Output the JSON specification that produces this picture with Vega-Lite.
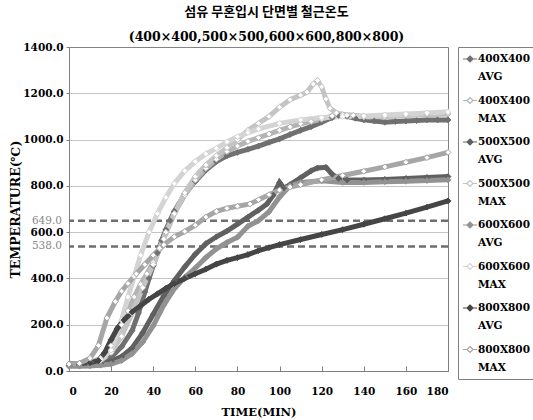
{
"$schema": "https://vega.github.io/schema/vega-lite/v6.json",
"width": 379, "height": 324,
"padding": {"left": 9, "top": 5, "right": 0, "bottom": 4},
"background": "white",
"title": {"text": "섬유 무혼입시 단면별 철근온도", "subtitle": "(400×400,500×500,600×600,800×800)", "font": "Noto Sans CJK KR", "fontSize": 13, "fontWeight": "bold", "color": "#000", "subtitleFont": "DejaVu Serif", "subtitleFontWeight": "bold", "subtitleFontSize": 12.5, "subtitleColor": "#000", "subtitlePadding": 12, "anchor": "middle", "offset": -1, "dx": 8},
"config": {
  "view": {"stroke": "#808080", "strokeWidth": 1},
  "style": {"guide-label": {"lineHeight": 18}},
  "axis": {"labelFont": "DejaVu Serif", "labelFontWeight": "bold", "labelFontSize": 10.5, "labelColor": "#000", "titleFont": "DejaVu Serif", "titleFontWeight": "bold", "titleColor": "#000", "domainColor": "#808080", "tickColor": "#808080"},
  "legend": {"orient": "right", "offset": 0, "padding": 6, "strokeColor": "#808080", "title": null, "symbolType": "M-1.4,0L-0.6,0M0.6,0L1.4,0M0,-0.6L0.6,0L0,0.6L-0.6,0Z", "symbolSize": 100, "symbolStrokeWidth": 1.2, "labelFont": "DejaVu Serif", "labelFontWeight": "bold", "labelFontSize": 10.5, "labelColor": "#000", "rowPadding": 11.5, "labelOffset": 2}
},
"datasets": {
"refs": [{"v": 649, "label": "649.0"}, {"v": 538, "label": "538.0"}],
"temps": [
{"s":"400X400 AVG","t":0,"v":25},{"s":"400X400 AVG","t":5,"v":27},{"s":"400X400 AVG","t":10,"v":30},{"s":"400X400 AVG","t":15,"v":38},{"s":"400X400 AVG","t":20,"v":60},{"s":"400X400 AVG","t":25,"v":105},{"s":"400X400 AVG","t":30,"v":175},{"s":"400X400 AVG","t":33,"v":250},{"s":"400X400 AVG","t":36,"v":340},{"s":"400X400 AVG","t":38,"v":400},{"s":"400X400 AVG","t":40,"v":455},{"s":"400X400 AVG","t":42,"v":510},{"s":"400X400 AVG","t":44,"v":565},{"s":"400X400 AVG","t":46,"v":610},{"s":"400X400 AVG","t":48,"v":650},{"s":"400X400 AVG","t":50,"v":690},{"s":"400X400 AVG","t":55,"v":765},{"s":"400X400 AVG","t":60,"v":820},{"s":"400X400 AVG","t":65,"v":868},{"s":"400X400 AVG","t":70,"v":905},{"s":"400X400 AVG","t":75,"v":930},{"s":"400X400 AVG","t":80,"v":945},{"s":"400X400 AVG","t":85,"v":958},{"s":"400X400 AVG","t":90,"v":972},{"s":"400X400 AVG","t":95,"v":988},{"s":"400X400 AVG","t":100,"v":1003},{"s":"400X400 AVG","t":105,"v":1022},{"s":"400X400 AVG","t":110,"v":1040},{"s":"400X400 AVG","t":115,"v":1056},{"s":"400X400 AVG","t":120,"v":1075},{"s":"400X400 AVG","t":125,"v":1095},{"s":"400X400 AVG","t":128,"v":1105},{"s":"400X400 AVG","t":132,"v":1100},{"s":"400X400 AVG","t":136,"v":1092},{"s":"400X400 AVG","t":140,"v":1085},{"s":"400X400 AVG","t":145,"v":1080},{"s":"400X400 AVG","t":150,"v":1075},{"s":"400X400 AVG","t":155,"v":1078},{"s":"400X400 AVG","t":160,"v":1080},{"s":"400X400 AVG","t":165,"v":1082},{"s":"400X400 AVG","t":170,"v":1085},{"s":"400X400 AVG","t":175,"v":1085},{"s":"400X400 AVG","t":180,"v":1085},
{"s":"400X400 MAX","t":0,"v":30},{"s":"400X400 MAX","t":5,"v":32},{"s":"400X400 MAX","t":10,"v":36},{"s":"400X400 MAX","t":15,"v":55},{"s":"400X400 MAX","t":20,"v":110},{"s":"400X400 MAX","t":25,"v":200},{"s":"400X400 MAX","t":28,"v":260},{"s":"400X400 MAX","t":31,"v":320},{"s":"400X400 MAX","t":34,"v":375},{"s":"400X400 MAX","t":37,"v":420},{"s":"400X400 MAX","t":40,"v":470},{"s":"400X400 MAX","t":43,"v":530},{"s":"400X400 MAX","t":46,"v":600},{"s":"400X400 MAX","t":50,"v":680},{"s":"400X400 MAX","t":55,"v":760},{"s":"400X400 MAX","t":60,"v":825},{"s":"400X400 MAX","t":65,"v":875},{"s":"400X400 MAX","t":70,"v":915},{"s":"400X400 MAX","t":75,"v":948},{"s":"400X400 MAX","t":80,"v":972},{"s":"400X400 MAX","t":85,"v":992},{"s":"400X400 MAX","t":90,"v":1008},{"s":"400X400 MAX","t":95,"v":1024},{"s":"400X400 MAX","t":100,"v":1040},{"s":"400X400 MAX","t":105,"v":1055},{"s":"400X400 MAX","t":110,"v":1068},{"s":"400X400 MAX","t":115,"v":1078},{"s":"400X400 MAX","t":120,"v":1088},{"s":"400X400 MAX","t":125,"v":1102},{"s":"400X400 MAX","t":130,"v":1108},{"s":"400X400 MAX","t":135,"v":1105},{"s":"400X400 MAX","t":140,"v":1100},{"s":"400X400 MAX","t":150,"v":1100},{"s":"400X400 MAX","t":160,"v":1105},{"s":"400X400 MAX","t":170,"v":1108},{"s":"400X400 MAX","t":180,"v":1110},
{"s":"500X500 AVG","t":0,"v":25},{"s":"500X500 AVG","t":5,"v":26},{"s":"500X500 AVG","t":10,"v":28},{"s":"500X500 AVG","t":15,"v":32},{"s":"500X500 AVG","t":20,"v":42},{"s":"500X500 AVG","t":25,"v":62},{"s":"500X500 AVG","t":30,"v":100},{"s":"500X500 AVG","t":35,"v":165},{"s":"500X500 AVG","t":40,"v":245},{"s":"500X500 AVG","t":45,"v":325},{"s":"500X500 AVG","t":50,"v":390},{"s":"500X500 AVG","t":55,"v":450},{"s":"500X500 AVG","t":60,"v":505},{"s":"500X500 AVG","t":65,"v":550},{"s":"500X500 AVG","t":70,"v":580},{"s":"500X500 AVG","t":75,"v":605},{"s":"500X500 AVG","t":80,"v":635},{"s":"500X500 AVG","t":85,"v":665},{"s":"500X500 AVG","t":90,"v":695},{"s":"500X500 AVG","t":94,"v":722},{"s":"500X500 AVG","t":97,"v":760},{"s":"500X500 AVG","t":100,"v":815},{"s":"500X500 AVG","t":102,"v":790},{"s":"500X500 AVG","t":105,"v":805},{"s":"500X500 AVG","t":110,"v":835},{"s":"500X500 AVG","t":115,"v":865},{"s":"500X500 AVG","t":118,"v":877},{"s":"500X500 AVG","t":122,"v":880},{"s":"500X500 AVG","t":125,"v":850},{"s":"500X500 AVG","t":128,"v":832},{"s":"500X500 AVG","t":132,"v":825},{"s":"500X500 AVG","t":140,"v":825},{"s":"500X500 AVG","t":150,"v":828},{"s":"500X500 AVG","t":160,"v":832},{"s":"500X500 AVG","t":170,"v":836},{"s":"500X500 AVG","t":180,"v":840},
{"s":"500X500 MAX","t":0,"v":30},{"s":"500X500 MAX","t":5,"v":32},{"s":"500X500 MAX","t":10,"v":35},{"s":"500X500 MAX","t":15,"v":45},{"s":"500X500 MAX","t":20,"v":80},{"s":"500X500 MAX","t":25,"v":150},{"s":"500X500 MAX","t":30,"v":250},{"s":"500X500 MAX","t":35,"v":360},{"s":"500X500 MAX","t":40,"v":460},{"s":"500X500 MAX","t":45,"v":570},{"s":"500X500 MAX","t":50,"v":680},{"s":"500X500 MAX","t":55,"v":770},{"s":"500X500 MAX","t":60,"v":840},{"s":"500X500 MAX","t":65,"v":890},{"s":"500X500 MAX","t":70,"v":930},{"s":"500X500 MAX","t":75,"v":965},{"s":"500X500 MAX","t":80,"v":1000},{"s":"500X500 MAX","t":85,"v":1040},{"s":"500X500 MAX","t":90,"v":1070},{"s":"500X500 MAX","t":95,"v":1100},{"s":"500X500 MAX","t":100,"v":1140},{"s":"500X500 MAX","t":105,"v":1172},{"s":"500X500 MAX","t":110,"v":1192},{"s":"500X500 MAX","t":113,"v":1205},{"s":"500X500 MAX","t":116,"v":1240},{"s":"500X500 MAX","t":118,"v":1255},{"s":"500X500 MAX","t":120,"v":1228},{"s":"500X500 MAX","t":122,"v":1175},{"s":"500X500 MAX","t":124,"v":1135},{"s":"500X500 MAX","t":127,"v":1115},{"s":"500X500 MAX","t":132,"v":1105},{"s":"500X500 MAX","t":140,"v":1098},{"s":"500X500 MAX","t":150,"v":1100},{"s":"500X500 MAX","t":160,"v":1105},{"s":"500X500 MAX","t":170,"v":1110},{"s":"500X500 MAX","t":180,"v":1115},
{"s":"600X600 AVG","t":0,"v":20},{"s":"600X600 AVG","t":5,"v":21},{"s":"600X600 AVG","t":10,"v":22},{"s":"600X600 AVG","t":15,"v":25},{"s":"600X600 AVG","t":20,"v":30},{"s":"600X600 AVG","t":25,"v":45},{"s":"600X600 AVG","t":30,"v":75},{"s":"600X600 AVG","t":35,"v":125},{"s":"600X600 AVG","t":40,"v":195},{"s":"600X600 AVG","t":45,"v":285},{"s":"600X600 AVG","t":50,"v":355},{"s":"600X600 AVG","t":55,"v":405},{"s":"600X600 AVG","t":60,"v":445},{"s":"600X600 AVG","t":65,"v":490},{"s":"600X600 AVG","t":70,"v":528},{"s":"600X600 AVG","t":75,"v":555},{"s":"600X600 AVG","t":80,"v":578},{"s":"600X600 AVG","t":85,"v":625},{"s":"600X600 AVG","t":90,"v":650},{"s":"600X600 AVG","t":95,"v":688},{"s":"600X600 AVG","t":100,"v":752},{"s":"600X600 AVG","t":105,"v":800},{"s":"600X600 AVG","t":110,"v":815},{"s":"600X600 AVG","t":120,"v":822},{"s":"600X600 AVG","t":130,"v":815},{"s":"600X600 AVG","t":140,"v":815},{"s":"600X600 AVG","t":150,"v":818},{"s":"600X600 AVG","t":160,"v":820},{"s":"600X600 AVG","t":170,"v":823},{"s":"600X600 AVG","t":180,"v":826},
{"s":"600X600 MAX","t":0,"v":30},{"s":"600X600 MAX","t":5,"v":32},{"s":"600X600 MAX","t":10,"v":35},{"s":"600X600 MAX","t":15,"v":48},{"s":"600X600 MAX","t":20,"v":90},{"s":"600X600 MAX","t":25,"v":220},{"s":"600X600 MAX","t":28,"v":320},{"s":"600X600 MAX","t":31,"v":410},{"s":"600X600 MAX","t":34,"v":500},{"s":"600X600 MAX","t":38,"v":600},{"s":"600X600 MAX","t":42,"v":680},{"s":"600X600 MAX","t":46,"v":750},{"s":"600X600 MAX","t":50,"v":810},{"s":"600X600 MAX","t":55,"v":865},{"s":"600X600 MAX","t":60,"v":905},{"s":"600X600 MAX","t":65,"v":938},{"s":"600X600 MAX","t":70,"v":962},{"s":"600X600 MAX","t":75,"v":990},{"s":"600X600 MAX","t":80,"v":1012},{"s":"600X600 MAX","t":85,"v":1030},{"s":"600X600 MAX","t":90,"v":1046},{"s":"600X600 MAX","t":100,"v":1070},{"s":"600X600 MAX","t":110,"v":1085},{"s":"600X600 MAX","t":120,"v":1095},{"s":"600X600 MAX","t":130,"v":1100},{"s":"600X600 MAX","t":140,"v":1102},{"s":"600X600 MAX","t":150,"v":1106},{"s":"600X600 MAX","t":160,"v":1110},{"s":"600X600 MAX","t":170,"v":1115},{"s":"600X600 MAX","t":180,"v":1120},
{"s":"800X800 AVG","t":0,"v":30},{"s":"800X800 AVG","t":5,"v":32},{"s":"800X800 AVG","t":10,"v":35},{"s":"800X800 AVG","t":14,"v":45},{"s":"800X800 AVG","t":17,"v":80},{"s":"800X800 AVG","t":20,"v":135},{"s":"800X800 AVG","t":23,"v":185},{"s":"800X800 AVG","t":26,"v":220},{"s":"800X800 AVG","t":30,"v":255},{"s":"800X800 AVG","t":34,"v":282},{"s":"800X800 AVG","t":38,"v":310},{"s":"800X800 AVG","t":42,"v":333},{"s":"800X800 AVG","t":46,"v":357},{"s":"800X800 AVG","t":50,"v":378},{"s":"800X800 AVG","t":55,"v":400},{"s":"800X800 AVG","t":60,"v":420},{"s":"800X800 AVG","t":65,"v":440},{"s":"800X800 AVG","t":70,"v":462},{"s":"800X800 AVG","t":75,"v":478},{"s":"800X800 AVG","t":80,"v":490},{"s":"800X800 AVG","t":85,"v":503},{"s":"800X800 AVG","t":90,"v":520},{"s":"800X800 AVG","t":95,"v":533},{"s":"800X800 AVG","t":100,"v":546},{"s":"800X800 AVG","t":110,"v":568},{"s":"800X800 AVG","t":120,"v":590},{"s":"800X800 AVG","t":130,"v":611},{"s":"800X800 AVG","t":140,"v":634},{"s":"800X800 AVG","t":150,"v":658},{"s":"800X800 AVG","t":160,"v":682},{"s":"800X800 AVG","t":170,"v":708},{"s":"800X800 AVG","t":180,"v":735},
{"s":"800X800 MAX","t":0,"v":30},{"s":"800X800 MAX","t":5,"v":33},{"s":"800X800 MAX","t":10,"v":55},{"s":"800X800 MAX","t":14,"v":110},{"s":"800X800 MAX","t":18,"v":229},{"s":"800X800 MAX","t":22,"v":300},{"s":"800X800 MAX","t":25,"v":345},{"s":"800X800 MAX","t":28,"v":378},{"s":"800X800 MAX","t":32,"v":420},{"s":"800X800 MAX","t":36,"v":460},{"s":"800X800 MAX","t":40,"v":500},{"s":"800X800 MAX","t":45,"v":545},{"s":"800X800 MAX","t":50,"v":580},{"s":"800X800 MAX","t":55,"v":603},{"s":"800X800 MAX","t":60,"v":630},{"s":"800X800 MAX","t":65,"v":665},{"s":"800X800 MAX","t":70,"v":690},{"s":"800X800 MAX","t":75,"v":703},{"s":"800X800 MAX","t":80,"v":712},{"s":"800X800 MAX","t":86,"v":722},{"s":"800X800 MAX","t":90,"v":740},{"s":"800X800 MAX","t":95,"v":762},{"s":"800X800 MAX","t":100,"v":782},{"s":"800X800 MAX","t":105,"v":795},{"s":"800X800 MAX","t":110,"v":805},{"s":"800X800 MAX","t":120,"v":826},{"s":"800X800 MAX","t":130,"v":845},{"s":"800X800 MAX","t":140,"v":863},{"s":"800X800 MAX","t":150,"v":882},{"s":"800X800 MAX","t":160,"v":902},{"s":"800X800 MAX","t":170,"v":922},{"s":"800X800 MAX","t":180,"v":945}
]
},
"layer": [
{"data": {"name": "refs"}, "mark": {"type": "rule", "strokeDash": [7, 4], "strokeWidth": 2.5, "color": "#6e6e6e"},
 "encoding": {"y": {"field": "v", "type": "quantitative", "scale": {"domain": [0, 1400]}}}},
{"data": {"name": "refs"}, "mark": {"type": "text", "align": "right", "baseline": "middle", "dx": -7, "font": "DejaVu Serif", "fontSize": 10.5, "color": "#888888"},
 "encoding": {"x": {"datum": 0, "type": "quantitative"}, "y": {"field": "v", "type": "quantitative"}, "text": {"field": "label"}}},
{"data": {"name": "temps"}, "mark": {"type": "line", "strokeWidth": 5},
 "encoding": {
  "x": {"field": "t", "type": "quantitative", "scale": {"domain": [0, 180], "nice": false}, "axis": {"title": "TIME(MIN)", "titleFontSize": 11.5, "values": [0,20,40,60,80,100,120,140,160,180], "grid": false, "tickSize": -5, "labelPadding": 20, "titlePadding": 10}},
  "y": {"field": "v", "type": "quantitative", "scale": {"domain": [0, 1400]}, "axis": {"title": "TEMPERATURE(℃)", "titleFontSize": 12.5, "format": ".1f", "values": [0,200,400,600,800,1000,1200,1400], "grid": true, "gridDash": [1, 1], "gridColor": "#888888", "tickSize": 3, "labelPadding": 3, "titlePadding": 0}},
  "stroke": {"field": "s", "type": "nominal", "scale": {"domain": ["400X400 AVG","400X400 MAX","500X500 AVG","500X500 MAX","600X600 AVG","600X600 MAX","800X800 AVG","800X800 MAX"], "range": ["#707070","#b4b4b4","#606060","#c4c4c4","#929292","#d4d4d4","#454545","#a6a6a6"]}, "legend": {"labelExpr": "split(datum.label, ' ')"}}
 }},
{"data": {"name": "temps"}, "mark": {"type": "point", "shape": "diamond", "size": 34, "strokeWidth": 1, "opacity": 1},
 "encoding": {
  "x": {"field": "t", "type": "quantitative"},
  "y": {"field": "v", "type": "quantitative"},
  "stroke": {"field": "s", "type": "nominal", "legend": {"labelExpr": "split(datum.label, ' ')"}},
  "fill": {"field": "s", "type": "nominal", "scale": {"domain": ["400X400 AVG","400X400 MAX","500X500 AVG","500X500 MAX","600X600 AVG","600X600 MAX","800X800 AVG","800X800 MAX"], "range": ["#707070","#ffffff","#606060","#ffffff","#929292","#ffffff","#454545","#ffffff"]}, "legend": {"labelExpr": "split(datum.label, ' ')"}}
 }}
]
}
